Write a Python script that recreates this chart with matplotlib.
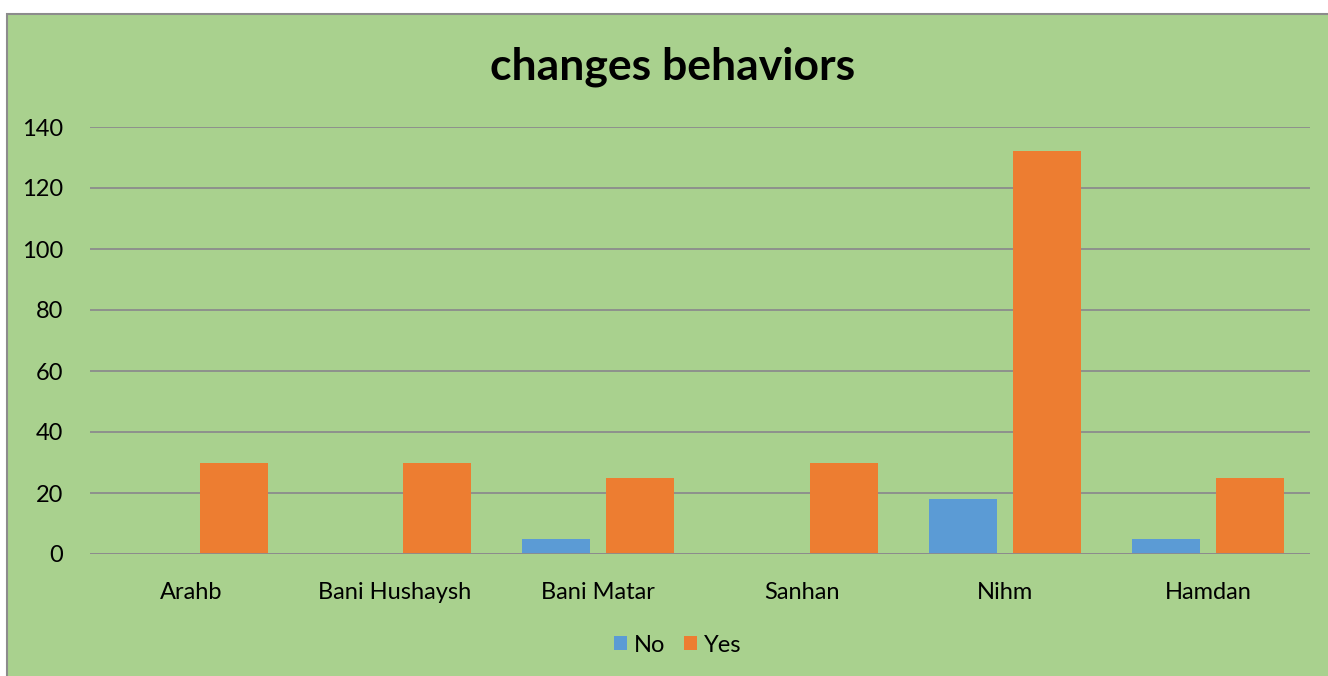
import numpy as np
import matplotlib
matplotlib.use('Agg')
import matplotlib.pyplot as plt
from matplotlib.patches import Rectangle

# Data
districts = ['Arahb', 'Bani Hushaysh', 'Bani Matar', 'Sanhan', 'Nihm', 'Hamdan']
no_vals = [0, 0, 5, 0, 18, 5]
yes_vals = [30, 30, 25, 30, 132, 25]

plt.rcParams['font.family'] = ['Lato', 'DejaVu Sans']

fig = plt.figure(figsize=(13.28, 6.76), dpi=100)
fig.patch.set_facecolor('white')

# green chart area with gray border
bg = Rectangle((7 / 1328, -0.01), 1.01, 1 - 14 / 676 + 0.01, transform=fig.transFigure,
               facecolor='#A9D18E', edgecolor='#8C8C8C', linewidth=1.5, zorder=-10)
fig.patches.append(bg)

ax = fig.add_axes([90 / 1328, 1 - 554 / 676, 1220 / 1328, 427 / 676])
ax.set_facecolor('none')
ax.set_zorder(5)

x = np.arange(len(districts))
w = 0.334
ax.bar(x - 0.207, no_vals, w, color='#5B9BD5', label='No', zorder=3)
ax.bar(x + 0.207, yes_vals, w, color='#ED7D31', label='Yes', zorder=3)

ax.set_xlim(-0.5, len(districts) - 0.5)
ax.set_ylim(0, 140)
ax.set_yticks(range(0, 141, 20))
ax.set_xticks(x)
ax.set_xticklabels(districts)
ax.yaxis.grid(True, color='#8C8C8C', linewidth=1.3, zorder=0)
for s in ax.spines.values():
    s.set_visible(False)
ax.tick_params(axis='both', length=0, labelsize=17, colors='black')
ax.tick_params(axis='x', pad=20)
ax.tick_params(axis='y', pad=19.5)
ax.axhline(0, color='#8C8C8C', linewidth=1.3, zorder=4)

fig.text(673 / 1328, 1 - 67 / 676, 'changes behaviors', ha='center', va='center',
         fontsize=32, fontweight='bold')

fig.legend(loc='center', bbox_to_anchor=(678 / 1328, 1 - 645 / 676), ncol=2,
           frameon=False, fontsize=17, handlelength=0.55, handleheight=0.55,
           handletextpad=0.3, columnspacing=0.8)

fig.savefig('out.png', dpi=100, facecolor=fig.get_facecolor())
